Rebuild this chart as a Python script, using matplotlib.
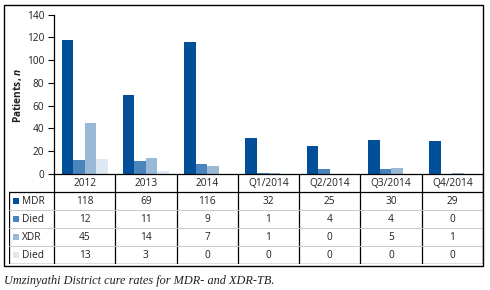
import matplotlib
matplotlib.use("Agg")
import matplotlib.pyplot as plt
from matplotlib.patches import Rectangle
from matplotlib.lines import Line2D
import numpy as np

categories = ["2012", "2013", "2014", "Q1/2014", "Q2/2014", "Q3/2014", "Q4/2014"]
series_names = ["MDR", "Died", "XDR", "Died"]
mdr = [118, 69, 116, 32, 25, 30, 29]
died_mdr = [12, 11, 9, 1, 4, 4, 0]
xdr = [45, 14, 7, 1, 0, 5, 1]
died_xdr = [13, 3, 0, 0, 0, 0, 0]
series_values = [mdr, died_mdr, xdr, died_xdr]
colors = ["#004f98", "#4a84bd", "#9ab9d7", "#dde8f3"]
y_ticks = [0, 20, 40, 60, 80, 100, 120, 140]
caption = "Umzinyathi District cure rates for MDR- and XDR-TB."

plt.rcParams['font.family'] = ['Open Sans', 'DejaVu Sans']
plt.rcParams['mathtext.fontset'] = 'custom'
plt.rcParams['mathtext.it'] = 'Open Sans:italic:bold'
plt.rcParams['mathtext.rm'] = 'Open Sans:bold'

W, H = 490, 290
fig = plt.figure(figsize=(W / 100, H / 100), dpi=100)

def fx(px):
    return px / W

def fy(py):
    return 1 - py / H

txt_color = "#231f20"
fs = 7.3

# Main axes
ax_l, ax_r, ax_t, ax_b = 54, 483, 14.7, 174
ax = fig.add_axes([fx(ax_l), fy(ax_b), fx(ax_r - ax_l), (ax_b - ax_t) / H])
x = np.arange(len(categories))
bw = 0.188
for i, (vals, c) in enumerate(zip(series_values, colors)):
    ax.bar(x + (i - 1.5) * bw, vals, width=bw, color=c, linewidth=0)
ax.set_xlim(-0.5, len(categories) - 0.5)
ax.set_ylim(0, 140)
ax.set_yticks(y_ticks)
ax.set_yticklabels([str(t) for t in y_ticks], fontsize=fs, color=txt_color)
ax.set_xticks([])
for s in ["top", "right"]:
    ax.spines[s].set_visible(False)
ax.spines["left"].set_linewidth(0.9)
ax.spines["bottom"].set_linewidth(0.9)
ax.tick_params(axis="y", length=4, width=0.8, pad=3)
ax.patch.set_alpha(0)

fig.text(fx(18), fy(95), r"Patients, $\mathit{n}$", rotation=90, ha="center", va="center",
         fontsize=fs, fontweight="bold", color=txt_color)

# Table axes
t_l, t_r, t_t, t_b = 9, 483, 174, 264
tax = fig.add_axes([fx(t_l), fy(t_b), fx(t_r - t_l), (t_b - t_t) / H])
tax.set_axis_off()
lab_w = (ax_l - t_l) / ((ax_r - ax_l) / len(categories))
x0 = -0.5 - lab_w
x1 = len(categories) - 0.5
tax.set_xlim(x0, x1)
tax.set_ylim(t_b - t_t, 0)
hh = 18
rh = 18

for k in range(len(categories) + 1):
    xv = k - 0.5
    tax.add_line(Line2D([xv, xv], [0, t_b - t_t], color="black", lw=0.9))
tax.add_line(Line2D([x0, x0], [hh, t_b - t_t], color="black", lw=0.9))
tax.add_line(Line2D([x0, x1], [hh, hh], color="black", lw=0.9))
tax.add_line(Line2D([x0, x1], [t_b - t_t, t_b - t_t], color="black", lw=0.9))
for r in range(1, 4):
    yv = hh + r * rh
    tax.add_line(Line2D([x0, x1], [yv, yv], color="#c8c8c8", lw=0.7))

for j, cat in enumerate(categories):
    tax.text(j, hh / 2 + 0.5, cat, ha="center", va="center", fontsize=fs, color=txt_color)

px_per_unit = (t_r - t_l) / (x1 - x0)
for r, (name, vals, c) in enumerate(zip(series_names, series_values, colors)):
    yc = hh + r * rh + rh / 2
    sq = 6 / px_per_unit
    tax.add_patch(Rectangle((x0 + 4 / px_per_unit, yc - 3), sq, 6, color=c, lw=0))
    tax.text(x0 + 13 / px_per_unit, yc + 0.5, name, ha="left", va="center", fontsize=fs, color=txt_color)
    for j, v in enumerate(vals):
        tax.text(j, yc + 0.5, str(v), ha="center", va="center", fontsize=fs, color=txt_color)

# Outer frame
fig.add_artist(Rectangle((fx(4), fy(266)), fx(483 - 4), (266 - 5) / H, transform=fig.transFigure,
                         fill=False, edgecolor="black", lw=1.0))

fig.text(fx(4), fy(281), caption, ha="left", va="center", fontsize=8.8, style="italic",
         family="Liberation Serif", color=txt_color)

fig.savefig("out.png", dpi=100)
